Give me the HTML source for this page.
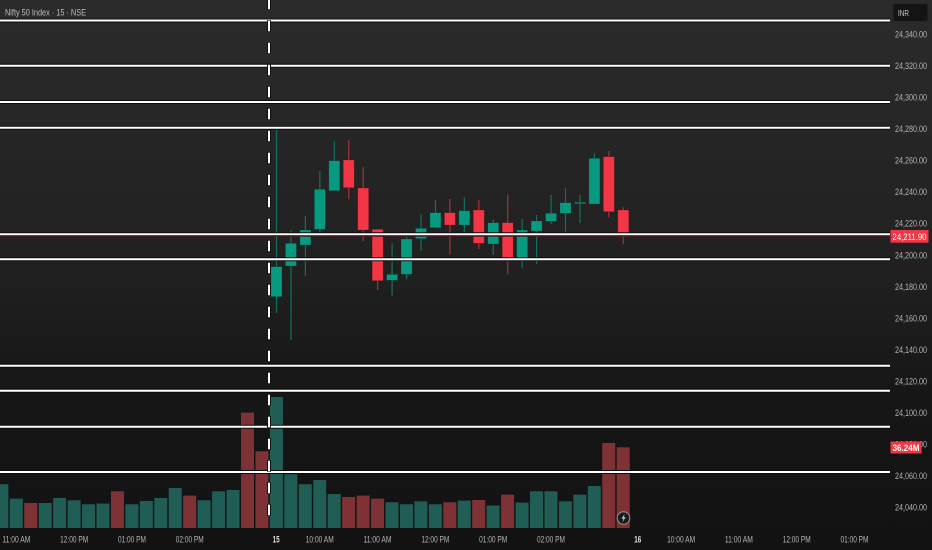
<!DOCTYPE html>
<html><head><meta charset="utf-8"><style>
html,body{margin:0;padding:0;background:#1a1a1a;}
svg{display:block;}
text{font-family:"Liberation Sans",sans-serif;}
</style></head><body>
<svg width="932" height="550" viewBox="0 0 932 550" xmlns="http://www.w3.org/2000/svg">
<defs>
<linearGradient id="bg" x1="0" y1="0" x2="0" y2="1">
<stop offset="0" stop-color="#2b2b2b"/>
<stop offset="0.5" stop-color="#202020"/>
<stop offset="0.72" stop-color="#161616"/>
<stop offset="1" stop-color="#121212"/>
</linearGradient>
</defs>
<rect x="0" y="0" width="932" height="550" fill="url(#bg)"/>

<!-- Volume bars -->
<g stroke="#151515" stroke-width="0.6">
<rect x="-4.95" y="484" width="13.6" height="44.3" fill="#1f5d55"/>
<rect x="9.5" y="498.3" width="13.6" height="30" fill="#1f5d55"/>
<rect x="23.95" y="502.7" width="13.6" height="25.6" fill="#7e3236"/>
<rect x="38.4" y="502.7" width="13.6" height="25.6" fill="#1f5d55"/>
<rect x="52.85" y="497.7" width="13.6" height="30.6" fill="#1f5d55"/>
<rect x="67.3" y="500" width="13.6" height="28.3" fill="#1f5d55"/>
<rect x="81.75" y="504" width="13.6" height="24.3" fill="#1f5d55"/>
<rect x="96.2" y="503.3" width="13.6" height="25" fill="#1f5d55"/>
<rect x="110.65" y="491" width="13.6" height="37.3" fill="#7e3236"/>
<rect x="125.1" y="504" width="13.6" height="24.3" fill="#1f5d55"/>
<rect x="139.55" y="500.7" width="13.6" height="27.6" fill="#1f5d55"/>
<rect x="154" y="497.7" width="13.6" height="30.6" fill="#1f5d55"/>
<rect x="168.45" y="487.7" width="13.6" height="40.6" fill="#1f5d55"/>
<rect x="182.9" y="495.3" width="13.6" height="33" fill="#7e3236"/>
<rect x="197.35" y="500" width="13.6" height="28.3" fill="#1f5d55"/>
<rect x="211.8" y="491" width="13.6" height="37.3" fill="#1f5d55"/>
<rect x="226.25" y="489.7" width="13.6" height="38.6" fill="#1f5d55"/>
<rect x="240.7" y="412.3" width="13.6" height="116" fill="#7e3236"/>
<rect x="255.15" y="451" width="13.6" height="77.3" fill="#7e3236"/>
<rect x="269.6" y="396.7" width="13.6" height="131.6" fill="#1f5d55"/>
<rect x="284.05" y="474" width="13.6" height="54.3" fill="#1f5d55"/>
<rect x="298.5" y="484" width="13.6" height="44.3" fill="#1f5d55"/>
<rect x="312.95" y="479.7" width="13.6" height="48.6" fill="#1f5d55"/>
<rect x="327.4" y="493.7" width="13.6" height="34.6" fill="#1f5d55"/>
<rect x="341.85" y="496.7" width="13.6" height="31.6" fill="#7e3236"/>
<rect x="356.3" y="495.3" width="13.6" height="33" fill="#7e3236"/>
<rect x="370.75" y="498.3" width="13.6" height="30" fill="#7e3236"/>
<rect x="385.2" y="502" width="13.6" height="26.3" fill="#1f5d55"/>
<rect x="399.65" y="504" width="13.6" height="24.3" fill="#1f5d55"/>
<rect x="414.1" y="501" width="13.6" height="27.3" fill="#1f5d55"/>
<rect x="428.55" y="504" width="13.6" height="24.3" fill="#1f5d55"/>
<rect x="443" y="502" width="13.6" height="26.3" fill="#7e3236"/>
<rect x="457.45" y="500.3" width="13.6" height="28" fill="#1f5d55"/>
<rect x="471.9" y="499.7" width="13.6" height="28.6" fill="#7e3236"/>
<rect x="486.35" y="505.3" width="13.6" height="23" fill="#1f5d55"/>
<rect x="500.8" y="494.3" width="13.6" height="34" fill="#7e3236"/>
<rect x="515.25" y="502.3" width="13.6" height="26" fill="#1f5d55"/>
<rect x="529.7" y="491" width="13.6" height="37.3" fill="#1f5d55"/>
<rect x="544.15" y="491" width="13.6" height="37.3" fill="#1f5d55"/>
<rect x="558.6" y="501" width="13.6" height="27.3" fill="#1f5d55"/>
<rect x="573.05" y="494.3" width="13.6" height="34" fill="#1f5d55"/>
<rect x="587.5" y="485.7" width="13.6" height="42.6" fill="#1f5d55"/>
<rect x="601.95" y="442.7" width="13.6" height="85.6" fill="#7e3236"/>
<rect x="616.4" y="447" width="13.6" height="81.3" fill="#7e3236"/>
</g>

<!-- Candle wicks -->
<g stroke-width="1.2">
<line x1="276.5" y1="130" x2="276.5" y2="313" stroke="#13705f"/>
<line x1="290.95" y1="230" x2="290.95" y2="340" stroke="#13705f"/>
<line x1="305.4" y1="215.7" x2="305.4" y2="276" stroke="#13705f"/>
<line x1="319.85" y1="171" x2="319.85" y2="232.7" stroke="#13705f"/>
<line x1="334.3" y1="140.7" x2="334.3" y2="190.7" stroke="#13705f"/>
<line x1="348.75" y1="140" x2="348.75" y2="199.3" stroke="#a8303a"/>
<line x1="363.2" y1="167.3" x2="363.2" y2="241" stroke="#a8303a"/>
<line x1="377.65" y1="229.3" x2="377.65" y2="290" stroke="#a8303a"/>
<line x1="392.1" y1="243.3" x2="392.1" y2="295.7" stroke="#13705f"/>
<line x1="406.55" y1="236.7" x2="406.55" y2="279.3" stroke="#13705f"/>
<line x1="421" y1="214.3" x2="421" y2="251" stroke="#13705f"/>
<line x1="435.45" y1="200" x2="435.45" y2="227.7" stroke="#13705f"/>
<line x1="449.9" y1="199" x2="449.9" y2="254.3" stroke="#a8303a"/>
<line x1="464.35" y1="197.3" x2="464.35" y2="233.3" stroke="#13705f"/>
<line x1="478.8" y1="200" x2="478.8" y2="249" stroke="#a8303a"/>
<line x1="493.25" y1="219.3" x2="493.25" y2="255" stroke="#13705f"/>
<line x1="507.7" y1="194.3" x2="507.7" y2="274.3" stroke="#a8303a"/>
<line x1="522.15" y1="219" x2="522.15" y2="268.3" stroke="#13705f"/>
<line x1="536.6" y1="215" x2="536.6" y2="264" stroke="#13705f"/>
<line x1="551.05" y1="195" x2="551.05" y2="224" stroke="#13705f"/>
<line x1="565.5" y1="188.3" x2="565.5" y2="232.7" stroke="#13705f"/>
<line x1="579.95" y1="195" x2="579.95" y2="223.3" stroke="#13705f"/>
<line x1="594.4" y1="153.3" x2="594.4" y2="204" stroke="#13705f"/>
<line x1="608.85" y1="151" x2="608.85" y2="217.3" stroke="#a8303a"/>
<line x1="623.3" y1="207.3" x2="623.3" y2="244.3" stroke="#a8303a"/>
</g>
<!-- Candle bodies -->
<g stroke="rgba(0,0,0,0.25)" stroke-width="0.6">
<rect x="271" y="266.7" width="11" height="30" fill="#089981"/>
<rect x="285.45" y="243.3" width="11" height="22.7" fill="#089981"/>
<rect x="299.9" y="230" width="11" height="15" fill="#089981"/>
<rect x="314.35" y="189.3" width="11" height="40" fill="#089981"/>
<rect x="328.8" y="160.7" width="11" height="30" fill="#089981"/>
<rect x="343.25" y="160" width="11" height="27.7" fill="#f23645"/>
<rect x="357.7" y="188" width="11" height="42" fill="#f23645"/>
<rect x="372.15" y="229.3" width="11" height="51.4" fill="#f23645"/>
<rect x="386.6" y="274.3" width="11" height="6" fill="#089981"/>
<rect x="401.05" y="239" width="11" height="35.3" fill="#089981"/>
<rect x="415.5" y="228.3" width="11" height="10.4" fill="#089981"/>
<rect x="429.95" y="212.7" width="11" height="15" fill="#089981"/>
<rect x="444.4" y="212.7" width="11" height="12.3" fill="#f23645"/>
<rect x="458.85" y="210.7" width="11" height="14.3" fill="#089981"/>
<rect x="473.3" y="210" width="11" height="33.3" fill="#f23645"/>
<rect x="487.75" y="222.7" width="11" height="21.3" fill="#089981"/>
<rect x="502.2" y="222.7" width="11" height="36.6" fill="#f23645"/>
<rect x="516.65" y="230" width="11" height="29" fill="#089981"/>
<rect x="531.1" y="221" width="11" height="10" fill="#089981"/>
<rect x="545.55" y="213.3" width="11" height="8" fill="#089981"/>
<rect x="560" y="202.7" width="11" height="10.6" fill="#089981"/>
<rect x="574.45" y="202.2" width="11" height="1.5" fill="#157565" stroke="none"/>
<rect x="588.9" y="158.3" width="11" height="45.7" fill="#089981"/>
<rect x="603.35" y="156.7" width="11" height="55" fill="#f23645"/>
<rect x="617.8" y="210" width="11" height="26.7" fill="#f23645"/>
</g>

<!-- price line -->
<line x1="0" y1="236.3" x2="890" y2="236.3" stroke="#6a2029" stroke-width="1"/>

<!-- horizontal white lines -->
<g stroke="#0c0c0c" stroke-width="4">
<line x1="0" y1="20.5" x2="890" y2="20.5"/>
<line x1="0" y1="65.8" x2="890" y2="65.8"/>
<line x1="0" y1="102" x2="890" y2="102"/>
<line x1="0" y1="127.8" x2="890" y2="127.8"/>
<line x1="0" y1="234.3" x2="890" y2="234.3"/>
<line x1="0" y1="259.3" x2="890" y2="259.3"/>
<line x1="0" y1="365.8" x2="890" y2="365.8"/>
<line x1="0" y1="390.8" x2="890" y2="390.8"/>
<line x1="0" y1="426.8" x2="890" y2="426.8"/>
<line x1="0" y1="472" x2="890" y2="472"/>
</g>
<g stroke="#ffffff" stroke-width="2">
<line x1="0" y1="20.5" x2="890" y2="20.5"/>
<line x1="0" y1="65.8" x2="890" y2="65.8"/>
<line x1="0" y1="102" x2="890" y2="102"/>
<line x1="0" y1="127.8" x2="890" y2="127.8"/>
<line x1="0" y1="234.3" x2="890" y2="234.3"/>
<line x1="0" y1="259.3" x2="890" y2="259.3"/>
<line x1="0" y1="365.8" x2="890" y2="365.8"/>
<line x1="0" y1="390.8" x2="890" y2="390.8"/>
<line x1="0" y1="426.8" x2="890" y2="426.8"/>
<line x1="0" y1="472" x2="890" y2="472"/>
</g>

<!-- dashed vertical line -->
<line x1="269" y1="0" x2="269" y2="524" stroke="#111" stroke-width="4" stroke-dasharray="11.5 10.5" stroke-dashoffset="1.7"/>
<line x1="269" y1="0" x2="269" y2="524" stroke="#ffffff" stroke-width="2" stroke-dasharray="10.5 11.5" stroke-dashoffset="1.2"/>

<!-- lightning icon -->
<circle cx="623.5" cy="518" r="6.3" fill="#1b1b1b" stroke="#9a9a9a" stroke-width="1"/>
<path d="M624.8 513.6 L621.6 518.6 L623.6 518.6 L622.3 522.4 L625.6 517.2 L623.6 517.2 Z" fill="#d8d8d8"/>

<!-- Title -->
<text x="5" y="15.5" font-size="9.5" fill="#bdbdbd" textLength="81" lengthAdjust="spacingAndGlyphs">Nifty 50 Index · 15 · NSE</text>

<!-- INR box -->
<rect x="893" y="3.5" width="35" height="18" rx="2.5" fill="#141414" stroke="#262626" stroke-width="1"/>
<text x="898" y="15.8" font-size="8.5" fill="#c8c8c8" textLength="11" lengthAdjust="spacingAndGlyphs">INR</text>

<!-- axis labels -->
<g font-size="9.5" fill="#b4b4b4" lengthAdjust="spacingAndGlyphs">
<text x="895" y="37.4" textLength="32" lengthAdjust="spacingAndGlyphs">24,340.00</text>
<text x="895" y="68.95" textLength="32" lengthAdjust="spacingAndGlyphs">24,320.00</text>
<text x="895" y="100.5" textLength="32" lengthAdjust="spacingAndGlyphs">24,300.00</text>
<text x="895" y="132.05" textLength="32" lengthAdjust="spacingAndGlyphs">24,280.00</text>
<text x="895" y="163.6" textLength="32" lengthAdjust="spacingAndGlyphs">24,260.00</text>
<text x="895" y="195.15" textLength="32" lengthAdjust="spacingAndGlyphs">24,240.00</text>
<text x="895" y="226.7" textLength="32" lengthAdjust="spacingAndGlyphs">24,220.00</text>
<text x="895" y="258.25" textLength="32" lengthAdjust="spacingAndGlyphs">24,200.00</text>
<text x="895" y="289.8" textLength="32" lengthAdjust="spacingAndGlyphs">24,180.00</text>
<text x="895" y="321.35" textLength="32" lengthAdjust="spacingAndGlyphs">24,160.00</text>
<text x="895" y="352.9" textLength="32" lengthAdjust="spacingAndGlyphs">24,140.00</text>
<text x="895" y="384.45" textLength="32" lengthAdjust="spacingAndGlyphs">24,120.00</text>
<text x="895" y="416" textLength="32" lengthAdjust="spacingAndGlyphs">24,100.00</text>
<text x="895" y="447.55" textLength="32" lengthAdjust="spacingAndGlyphs">24,080.00</text>
<text x="895" y="479.1" textLength="32" lengthAdjust="spacingAndGlyphs">24,060.00</text>
<text x="895" y="510.65" textLength="32" lengthAdjust="spacingAndGlyphs">24,040.00</text>
</g>

<!-- price labels -->
<rect x="890.5" y="230" width="38" height="12.7" fill="#f23645"/>
<text x="892.5" y="239.8" font-size="9.5" fill="#ffffff" textLength="34" lengthAdjust="spacingAndGlyphs">24,211.90</text>
<rect x="890.5" y="441.5" width="31" height="12" fill="#f23645"/>
<text x="892.5" y="451" font-size="9.5" font-weight="bold" fill="#ffffff" textLength="27" lengthAdjust="spacingAndGlyphs">36.24M</text>

<!-- time labels -->
<g font-size="9" fill="#b4b4b4">
<text x="2.35" y="542.5" textLength="28" lengthAdjust="spacingAndGlyphs">11:00 AM</text>
<text x="60.15" y="542.5" textLength="28" lengthAdjust="spacingAndGlyphs">12:00 PM</text>
<text x="117.95" y="542.5" textLength="28" lengthAdjust="spacingAndGlyphs">01:00 PM</text>
<text x="175.75" y="542.5" textLength="28" lengthAdjust="spacingAndGlyphs">02:00 PM</text>
<text x="305.75" y="542.5" textLength="28" lengthAdjust="spacingAndGlyphs">10:00 AM</text>
<text x="363.55" y="542.5" textLength="28" lengthAdjust="spacingAndGlyphs">11:00 AM</text>
<text x="421.35" y="542.5" textLength="28" lengthAdjust="spacingAndGlyphs">12:00 PM</text>
<text x="479.15" y="542.5" textLength="28" lengthAdjust="spacingAndGlyphs">01:00 PM</text>
<text x="536.95" y="542.5" textLength="28" lengthAdjust="spacingAndGlyphs">02:00 PM</text>
<text x="667.1" y="542.5" textLength="28" lengthAdjust="spacingAndGlyphs">10:00 AM</text>
<text x="724.9" y="542.5" textLength="28" lengthAdjust="spacingAndGlyphs">11:00 AM</text>
<text x="782.7" y="542.5" textLength="28" lengthAdjust="spacingAndGlyphs">12:00 PM</text>
<text x="840.5" y="542.5" textLength="28" lengthAdjust="spacingAndGlyphs">01:00 PM</text>
<text x="272.6" y="542.5" font-weight="bold" fill="#e0e0e0" textLength="7" lengthAdjust="spacingAndGlyphs">15</text>
<text x="634.3" y="542.5" font-weight="bold" fill="#e0e0e0" textLength="7" lengthAdjust="spacingAndGlyphs">16</text>
</g>
</svg>
</body></html>
